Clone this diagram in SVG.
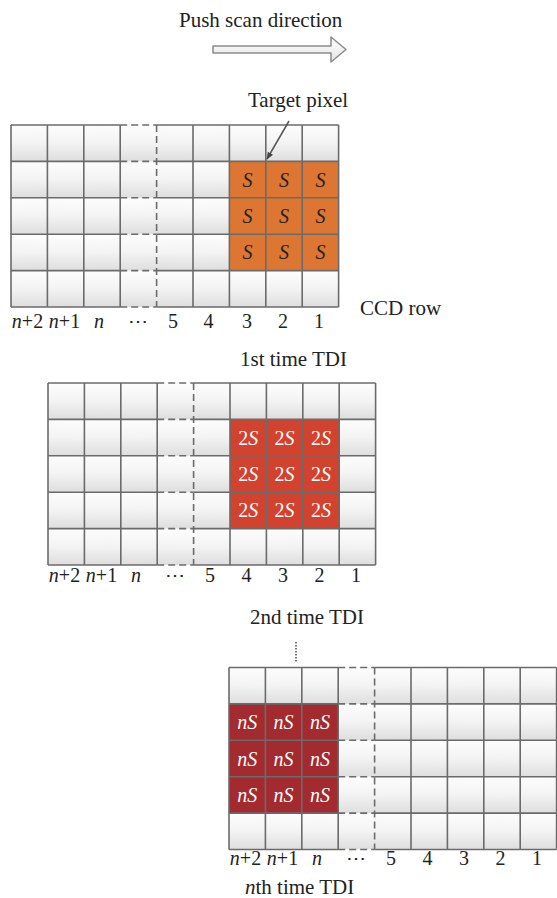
<svg xmlns="http://www.w3.org/2000/svg" xmlns:xlink="http://www.w3.org/1999/xlink" width="557" height="898" viewBox="0 0 557 898">
<style>
text{font-family:"Liberation Serif","Times New Roman",serif;fill:#222}
.t{font-size:21px}
.lb{font-size:20px;text-anchor:middle}
.cs{font-size:20px;text-anchor:middle;font-style:italic}
.w text{fill:#fff}
.i{font-style:italic}
.n{font-style:normal}
.sol{fill:none;stroke:#6b6b6b;stroke-width:1.6}
.dsh{fill:none;stroke:#6b6b6b;stroke-width:1.6;stroke-dasharray:7 4}
</style>
<defs>
<linearGradient id="cg" x1="0" y1="0" x2="0" y2="1">
<stop offset="0" stop-color="#fdfdfd"/>
<stop offset="0.5" stop-color="#f3f3f3"/>
<stop offset="1" stop-color="#dedede"/>
</linearGradient>
<linearGradient id="ag" x1="0" y1="0" x2="0" y2="1">
<stop offset="0" stop-color="#ffffff"/>
<stop offset="1" stop-color="#e4e4e4"/>
</linearGradient>
<pattern id="cp" width="36.4" height="36.4" patternUnits="userSpaceOnUse">
<rect width="36.4" height="36.4" fill="url(#cg)"/>
</pattern>
<marker id="ah" viewBox="0 0 10 10" refX="9" refY="5" markerWidth="5" markerHeight="5" orient="auto">
<path d="M0,1 L10,5 L0,9 Z" fill="#444"/>
</marker>
<rect id="gbg" x="0" y="0" width="327.6" height="182" fill="url(#cp)"/>
<g id="glines">
<path class="sol" d="M0,0V182M36.4,0V182M72.8,0V182M109.2,0V182M182,0V182M218.4,0V182M254.8,0V182M291.2,0V182M327.6,0V182M0,0H109.2M145.6,0H327.6M0,36.4H109.2M145.6,36.4H327.6M0,72.8H109.2M145.6,72.8H327.6M0,109.2H109.2M145.6,109.2H327.6M0,145.6H109.2M145.6,145.6H327.6M0,182H109.2M145.6,182H327.6"/>
<path class="dsh" d="M145.6,0V182M109.2,0H145.6M109.2,36.4H145.6M109.2,72.8H145.6M109.2,109.2H145.6M109.2,145.6H145.6M109.2,182H145.6"/>
</g>
</defs>

<g id="title">
<text class="t" x="179" y="26.5">Push scan direction</text>
</g>

<g id="grid1" transform="translate(11,125)">
<use href="#gbg"/>
<rect x="218.4" y="36.4" width="109.2" height="109.2" fill="#DE7633"/>
<use href="#glines"/>
<g class="cs">
<text x="236.6" y="61.6">S</text><text x="273" y="61.6">S</text><text x="309.4" y="61.6">S</text>
<text x="236.6" y="98">S</text><text x="273" y="98">S</text><text x="309.4" y="98">S</text>
<text x="236.6" y="134.4">S</text><text x="273" y="134.4">S</text><text x="309.4" y="134.4">S</text>
</g>
<g class="lb">
<text x="16.5" y="203"><tspan class="i">n</tspan>+2</text>
<text x="53.5" y="203"><tspan class="i">n</tspan>+1</text>
<text x="88" y="203" class="i">n</text>
<text x="126.5" y="203">⋯</text>
<text x="162" y="203">5</text>
<text x="197.5" y="203">4</text>
<text x="236" y="203">3</text>
<text x="272" y="203">2</text>
<text x="308" y="203">1</text>
</g>
</g>

<g id="target-label">
<text class="t" x="248" y="107">Target pixel</text>
</g>
<g id="ccd-label">
<text class="t" x="360" y="315">CCD row</text>
</g>
<g id="tdi1-label">
<text class="t" x="240" y="366">1st time TDI</text>
</g>

<g id="grid2" transform="translate(48,383)">
<use href="#gbg"/>
<rect x="182" y="36.4" width="109.2" height="109.2" fill="#D1432F"/>
<use href="#glines"/>
<g class="cs w">
<text x="200.2" y="61.6"><tspan class="n">2</tspan>S</text><text x="236.6" y="61.6"><tspan class="n">2</tspan>S</text><text x="273" y="61.6"><tspan class="n">2</tspan>S</text>
<text x="200.2" y="98"><tspan class="n">2</tspan>S</text><text x="236.6" y="98"><tspan class="n">2</tspan>S</text><text x="273" y="98"><tspan class="n">2</tspan>S</text>
<text x="200.2" y="134.4"><tspan class="n">2</tspan>S</text><text x="236.6" y="134.4"><tspan class="n">2</tspan>S</text><text x="273" y="134.4"><tspan class="n">2</tspan>S</text>
</g>
<g class="lb">
<text x="16.5" y="199"><tspan class="i">n</tspan>+2</text>
<text x="53.5" y="199"><tspan class="i">n</tspan>+1</text>
<text x="88" y="199" class="i">n</text>
<text x="126.5" y="199">⋯</text>
<text x="162" y="199">5</text>
<text x="198.5" y="199">4</text>
<text x="235" y="199">3</text>
<text x="271.5" y="199">2</text>
<text x="308" y="199">1</text>
</g>
</g>

<g id="tdi2-label">
<text class="t" x="250" y="624">2nd time TDI</text>
</g>

<g id="grid3" transform="translate(229,667.5)">
<use href="#gbg"/>
<rect x="0" y="36.4" width="109.2" height="109.2" fill="#A32A2E"/>
<use href="#glines"/>
<g class="cs w">
<text x="18.2" y="61.6">nS</text><text x="54.6" y="61.6">nS</text><text x="91" y="61.6">nS</text>
<text x="18.2" y="98">nS</text><text x="54.6" y="98">nS</text><text x="91" y="98">nS</text>
<text x="18.2" y="134.4">nS</text><text x="54.6" y="134.4">nS</text><text x="91" y="134.4">nS</text>
</g>
<g class="lb">
<text x="16.5" y="197.5"><tspan class="i">n</tspan>+2</text>
<text x="53.5" y="197.5"><tspan class="i">n</tspan>+1</text>
<text x="88" y="197.5" class="i">n</text>
<text x="126.5" y="197.5">⋯</text>
<text x="162" y="197.5">5</text>
<text x="198.5" y="197.5">4</text>
<text x="235" y="197.5">3</text>
<text x="271.5" y="197.5">2</text>
<text x="308" y="197.5">1</text>
</g>
</g>

<g id="tdin-label">
<text class="t" x="245" y="894"><tspan class="i">n</tspan>th time TDI</text>
</g>

<g id="connectors">
<path d="M213,46 H331 V37 L346,49.5 L331,62 V53 H213 Z" fill="url(#ag)" stroke="#8a8a8a" stroke-width="1.5" stroke-linejoin="round"/>
<line x1="289" y1="121" x2="267" y2="159" stroke="#555" stroke-width="1.5" marker-end="url(#ah)"/>
<line x1="296" y1="642" x2="296" y2="663" stroke="#777" stroke-width="2" stroke-dasharray="1.5 1.5"/>
</g>
</svg>
